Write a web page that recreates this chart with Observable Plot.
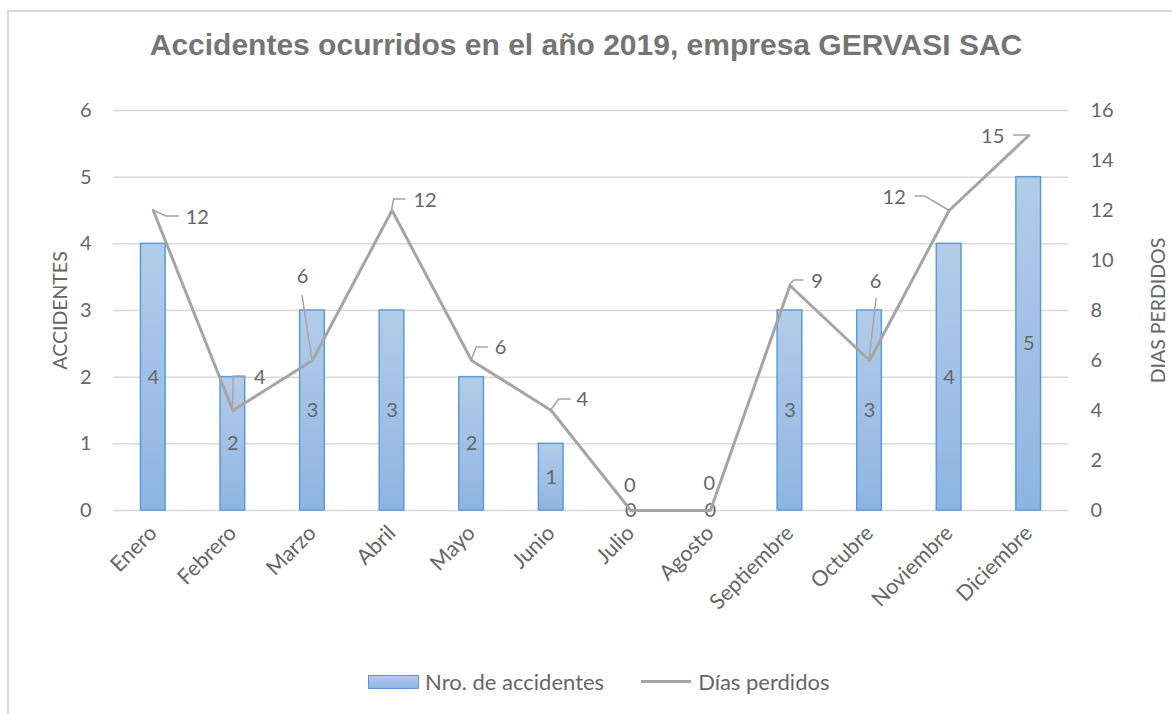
<!DOCTYPE html>
<html><head><meta charset="utf-8">
<script src="https://cdn.jsdelivr.net/npm/d3@7"></script>
<script src="https://cdn.jsdelivr.net/npm/@observablehq/plot@0.6"></script>
<style>
body{margin:0;background:#fff;width:1172px;height:714px;overflow:hidden;position:relative;font-family:Lato,sans-serif;}
#frame{position:absolute;left:7px;top:10px;width:1200px;height:740px;border:2px solid #d9d9d9;box-sizing:border-box;}
#title{position:absolute;left:0;top:28px;width:1172px;text-align:center;font:bold 30px "Liberation Sans",Arial,sans-serif;color:#757575;}
#chart{position:absolute;left:0;top:80px;}
#legend{position:absolute;left:368px;top:668px;display:flex;align-items:center;font:22px Lato,sans-serif;color:#666;}
.sw-bar{width:49px;height:12px;border:1.5px solid #5b9bd5;background:linear-gradient(#b3cce9,#92b6e2);margin-right:6px;}
.sw-line{width:50px;height:3px;background:#a5a5a5;margin-left:37px;margin-right:7px;}
</style></head>
<body>
<div id="frame"></div>
<div id="title">Accidentes ocurridos en el año 2019, empresa GERVASI SAC</div>
<div id="chart"></div>
<div id="legend"><div class="sw-bar"></div><span>Nro. de accidentes</span><div class="sw-line"></div><span>Días perdidos</span></div>
<script>
const months = ["Enero","Febrero","Marzo","Abril","Mayo","Junio","Julio","Agosto","Septiembre","Octubre","Noviembre","Diciembre"];
const accidentes = [4,2,3,3,2,1,0,0,3,3,4,5];
const diasPerdidos = [12,4,6,12,6,4,0,0,9,6,12,15];
const leftTicks = [0,1,2,3,4,5,6];
const rightTicks = [0,2,4,6,8,10,12,14,16];

// layout of the line's data labels (pixel offsets from each point) and their leader lines
const labelOffsets = [[44,7],[27,-33],[-10,-84],[33,-10],[29,-13],[31,-11],[-1,-25],[-1,-27],[27,-4],[6,-79],[-55,-13],[-36,1]];
const leaderPaths = [
  [[0,0],[13,6],[26,6]],
  [[0,0],[1,-34],[13,-34]],
  [[0,0],[-10,-65]],
  [[0,0],[2,-11],[14,-11]],
  [[0,0],[5,-13],[17,-13]],
  [[0,0],[8,-11],[20,-11]],
  null, null,
  [[0,0],[4,-5],[14,-5]],
  [[0,0],[7,-62]],
  [[0,0],[-24,-14],[-34,-14]],
  [[0,0],[-15,0]]
];

const k = 6/16; // right axis (0–16) mapped onto left axis (0–6)
const data = months.map((m,i)=>({mes:m, acc:accidentes[i], dias:diasPerdidos[i]}));
const textColor = "#666";

function defs() {
  const g = d3.create("svg:g");
  const grad = g.append("defs").append("linearGradient").attr("id","barGrad").attr("x1",0).attr("y1",0).attr("x2",0).attr("y2",1);
  grad.append("stop").attr("offset","0%").attr("stop-color","#b3cce9");
  grad.append("stop").attr("offset","100%").attr("stop-color","#8fb4e2");
  return g.node();
}
function leaders(index, scales) {
  const g = d3.create("svg:g");
  const bw = scales.x.bandwidth ? scales.x.bandwidth()/2 : 0;
  data.forEach((d,i)=>{
    const pts = leaderPaths[i]; if(!pts) return;
    const px = scales.x(d.mes)+bw, py = scales.y(d.dias*k);
    g.append("polyline").attr("points", pts.map(([a,b])=>`${px+a},${py+b}`).join(" "))
      .attr("fill","none").attr("stroke","#a5a5a5").attr("stroke-width",1.5);
  });
  return g.node();
}

const lineLabels = data.map((d,i)=>Plot.text([d], {x:"mes", y:d=>d.dias*k, text:d=>String(d.dias), dx:labelOffsets[i][0], dy:labelOffsets[i][1], fontSize:20, fill:textColor}));

const chart = Plot.plot({
  width:1172, height:560,
  marginTop:30, marginBottom:130, marginLeft:113, marginRight:104,
  style:{fontFamily:"Lato, sans-serif", color:textColor, background:"transparent"},
  x:{domain:months, paddingInner:0.69, paddingOuter:0.345, round:false},
  y:{domain:[0,6]},
  marks:[
    defs,
    Plot.gridY(leftTicks, {stroke:"#d9d9d9", strokeOpacity:1, strokeWidth:1.5}),
    Plot.barY(data, {x:"mes", y:"acc", fill:"url(#barGrad)", stroke:"#5b9bd5", strokeWidth:1.5}),
    Plot.text(data, {x:"mes", y:d=>d.acc/2, text:d=>String(d.acc), fontSize:20, fill:textColor}),
    Plot.line(data, {x:"mes", y:d=>d.dias*k, stroke:"#a5a5a5", strokeWidth:3}),
    leaders,
    ...lineLabels,
    Plot.axisY(leftTicks, {anchor:"left", tickSize:0, tickPadding:22, fontSize:20, label:null, tickFormat:d=>String(d)}),
    Plot.axisY(rightTicks.map(v=>v*k), {anchor:"right", tickSize:0, tickPadding:22, fontSize:20, label:null, tickFormat:v=>String(Math.round(v/k))}),
    Plot.axisX({tickSize:0, tickPadding:19, tickRotate:-45, fontSize:21.5, label:null}),
    Plot.text(["ACCIDENTES"], {frameAnchor:"left", textAnchor:"middle", dx:-53, rotate:-90, fontSize:19.5, fill:textColor}),
    Plot.text(["DIAS PERDIDOS"], {frameAnchor:"right", textAnchor:"middle", dx:90, rotate:-90, fontSize:19.5, fill:textColor})
  ]
});
document.getElementById("chart").appendChild(chart);
</script>
</body></html>
